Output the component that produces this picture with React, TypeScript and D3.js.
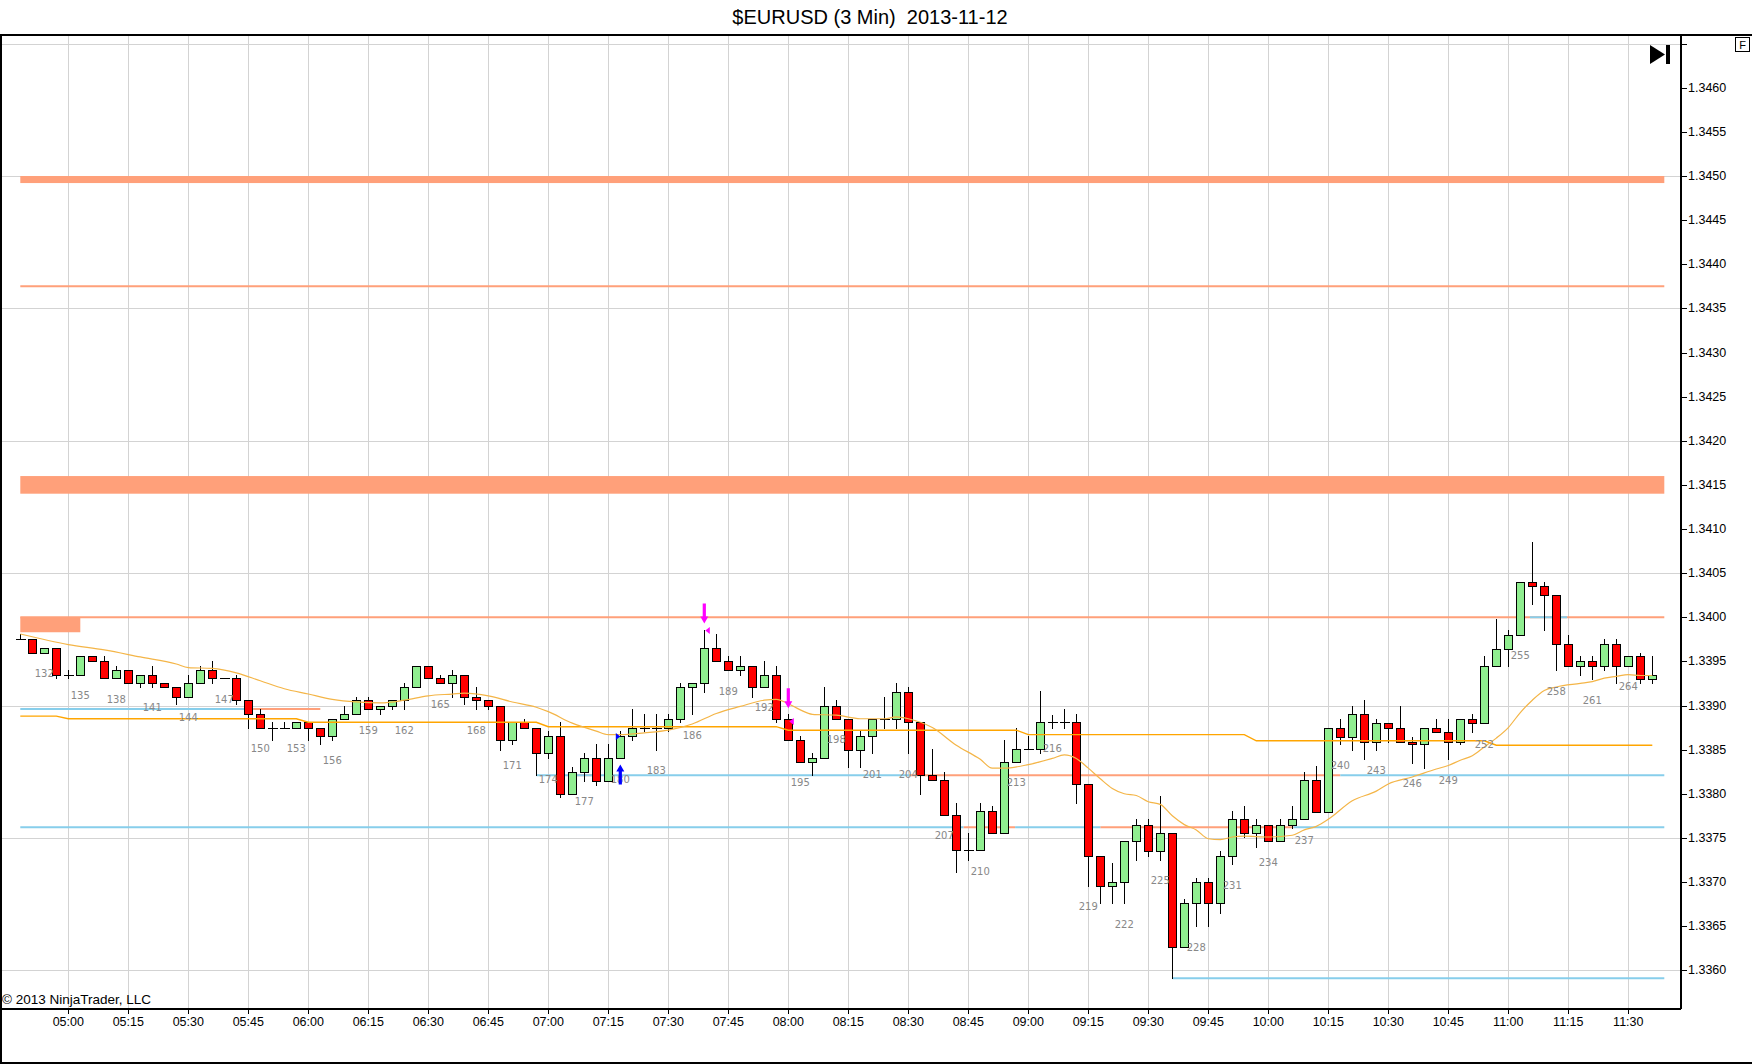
import React from "react";
import * as d3 from "d3";

// ---------- DATA ----------
const FIRST_BAR = 130;

const openP = [
  1.33975, 1.33975, 1.3396, 1.33965, 1.33935, 1.33935, 1.33956, 1.3395, 1.33931, 1.3394,
  1.33925, 1.33935, 1.33925, 1.33921, 1.3391, 1.33925, 1.3394, 1.33931, 1.33931, 1.33906,
  1.3389, 1.33875, 1.33875, 1.33875, 1.33881, 1.33875, 1.33865, 1.33885, 1.3389, 1.33906,
  1.33896, 1.339, 1.33906, 1.33921, 1.33945, 1.33931, 1.33925, 1.33935, 1.3391, 1.33906,
  1.339, 1.33861, 1.33881, 1.33875, 1.33846, 1.33865, 1.338, 1.33825, 1.3384, 1.33815,
  1.3384, 1.33865, 1.33875, 1.33875, 1.33875, 1.33885, 1.33921, 1.33925, 1.33965, 1.3395,
  1.3394, 1.33945, 1.33921, 1.33935, 1.33885, 1.33861, 1.33836, 1.3384, 1.339, 1.33885,
  1.3385, 1.33865, 1.33885, 1.33885, 1.33915, 1.33881, 1.33821, 1.33816, 1.33776, 1.33736,
  1.33736, 1.3378, 1.33755, 1.33836, 1.33851, 1.33851, 1.33881, 1.33881, 1.33881, 1.33811,
  1.3373, 1.33696, 1.337, 1.33746, 1.33765, 1.33735, 1.33755, 1.33626, 1.33676, 1.337,
  1.33676, 1.3373, 1.33771, 1.33755, 1.33765, 1.33746, 1.33765, 1.33771, 1.33816, 1.33779,
  1.33875, 1.33864, 1.3389, 1.33859, 1.3388, 1.33875, 1.33859, 1.33856, 1.33875, 1.3387,
  1.33859, 1.33885, 1.3388, 1.33945, 1.33964, 1.3398, 1.3404, 1.34035, 1.34025, 1.3397,
  1.33945, 1.3395, 1.33945, 1.3397, 1.33945, 1.33956, 1.3393,
];
const highP = [
  1.33981, 1.33975, 1.33965, 1.33965, 1.3394, 1.33956, 1.33956, 1.33956, 1.33945, 1.3394,
  1.33935, 1.33945, 1.33925, 1.33921, 1.33935, 1.33945, 1.3395, 1.33931, 1.33935, 1.33906,
  1.33896, 1.33881, 1.33881, 1.33881, 1.33881, 1.33875, 1.33885, 1.339, 1.3391, 1.3391,
  1.339, 1.33906, 1.33925, 1.33945, 1.33945, 1.33935, 1.3394, 1.33935, 1.33921, 1.33906,
  1.339, 1.33881, 1.33885, 1.33875, 1.33871, 1.33881, 1.3383, 1.33846, 1.33856, 1.33856,
  1.33871, 1.33896, 1.3389, 1.3389, 1.3389, 1.33925, 1.33925, 1.33986, 1.33981, 1.33956,
  1.33956, 1.33945, 1.3395, 1.33945, 1.3389, 1.33865, 1.33846, 1.33921, 1.33906, 1.33885,
  1.33871, 1.33885, 1.3391, 1.33925, 1.33921, 1.33881, 1.33851, 1.33825, 1.3379, 1.33755,
  1.3379, 1.33786, 1.33861, 1.33875, 1.33866, 1.33916, 1.33889, 1.33896, 1.3389, 1.33811,
  1.3373, 1.33721, 1.33746, 1.33771, 1.33771, 1.33797, 1.33755, 1.33681, 1.33705, 1.33705,
  1.33735, 1.3378, 1.33786, 1.33771, 1.33765, 1.33771, 1.33786, 1.33825, 1.33831, 1.33875,
  1.33885, 1.339, 1.33906, 1.33885, 1.3388, 1.339, 1.33864, 1.33875, 1.33885, 1.33885,
  1.33885, 1.3389, 1.33956, 1.33998, 1.33985, 1.3404, 1.34085, 1.3404, 1.34025, 1.3398,
  1.33956, 1.33956, 1.33975, 1.33975, 1.33956, 1.3396, 1.33956,
];
const lowP = [
  1.33975, 1.3396, 1.3396, 1.33931, 1.33931, 1.33935, 1.3395, 1.33931, 1.33931, 1.33925,
  1.33921, 1.33921, 1.33921, 1.33902, 1.3391, 1.33925, 1.33925, 1.33931, 1.33902, 1.33875,
  1.33875, 1.33861, 1.33875, 1.33875, 1.33861, 1.33856, 1.33861, 1.33885, 1.3389, 1.33896,
  1.3389, 1.33896, 1.33896, 1.33921, 1.33931, 1.33925, 1.3391, 1.33902, 1.33896, 1.33896,
  1.3385, 1.33856, 1.33875, 1.33821, 1.3384, 1.33796, 1.338, 1.33815, 1.3381, 1.33815,
  1.3384, 1.33861, 1.33871, 1.3385, 1.33871, 1.33881, 1.3389, 1.33915, 1.3395, 1.3394,
  1.33935, 1.3391, 1.33921, 1.33881, 1.33861, 1.33836, 1.33821, 1.3384, 1.33885, 1.3383,
  1.3383, 1.33846, 1.33874, 1.33874, 1.33846, 1.338, 1.33816, 1.33776, 1.33711, 1.33725,
  1.33736, 1.33755, 1.33755, 1.33836, 1.33851, 1.33846, 1.33875, 1.33875, 1.3379, 1.33696,
  1.33676, 1.33676, 1.33676, 1.33725, 1.3373, 1.33725, 1.33591, 1.33626, 1.3365, 1.3365,
  1.33665, 1.3372, 1.33751, 1.3374, 1.33746, 1.33746, 1.33761, 1.33771, 1.33779, 1.33779,
  1.33856, 1.3385, 1.33839, 1.3385, 1.33859, 1.33859, 1.33835, 1.33829, 1.3387, 1.33839,
  1.33856, 1.3387, 1.3388, 1.33945, 1.33945, 1.3398, 1.34015, 1.33985, 1.3394, 1.33945,
  1.33935, 1.3393, 1.3394, 1.33925, 1.33945, 1.33925, 1.33925,
];
const closeP = [
  1.33975, 1.3396, 1.33965, 1.33935, 1.33935, 1.33956, 1.3395, 1.33931, 1.3394, 1.33925,
  1.33935, 1.33925, 1.33921, 1.3391, 1.33925, 1.3394, 1.33931, 1.33931, 1.33906, 1.3389,
  1.33875, 1.33875, 1.33875, 1.33881, 1.33875, 1.33865, 1.33885, 1.3389, 1.33906, 1.33896,
  1.339, 1.33906, 1.33921, 1.33945, 1.33931, 1.33925, 1.33935, 1.3391, 1.33906, 1.339,
  1.33861, 1.33881, 1.33875, 1.33846, 1.33865, 1.338, 1.33825, 1.3384, 1.33815, 1.3384,
  1.33865, 1.33875, 1.33875, 1.33875, 1.33885, 1.33921, 1.33925, 1.33965, 1.3395, 1.3394,
  1.33945, 1.33921, 1.33935, 1.33885, 1.33861, 1.33836, 1.3384, 1.339, 1.33885, 1.3385,
  1.33865, 1.33885, 1.33885, 1.33915, 1.33881, 1.33821, 1.33816, 1.33776, 1.33736, 1.33736,
  1.3378, 1.33755, 1.33836, 1.33851, 1.33851, 1.33881, 1.33881, 1.33881, 1.33811, 1.3373,
  1.33696, 1.337, 1.33746, 1.33765, 1.33735, 1.33755, 1.33626, 1.33676, 1.337, 1.33676,
  1.3373, 1.33771, 1.33755, 1.33765, 1.33746, 1.33765, 1.33771, 1.33816, 1.33779, 1.33875,
  1.33864, 1.3389, 1.33859, 1.3388, 1.33875, 1.33859, 1.33856, 1.33875, 1.3387, 1.33859,
  1.33885, 1.3388, 1.33945, 1.33964, 1.3398, 1.3404, 1.34035, 1.34025, 1.3397, 1.33945,
  1.3395, 1.33945, 1.3397, 1.33945, 1.33956, 1.3393, 1.33935,
];

// stepped (hourly) level indicator: value starting at bar
const stepFrom = [130, 134, 154, 174, 194, 214, 233, 253];
const stepValue = [1.33888, 1.33885, 1.33881, 1.33876, 1.33872, 1.33867, 1.3386, 1.33855];

// moving average: [bar, value]
const maPoints: [number, number][] = [
  [130, 1.33981], [134, 1.33969], [137, 1.33963], [140, 1.33955], [143, 1.33947], [144, 1.33943],
  [146, 1.33942], [148, 1.33937], [150, 1.33928], [152, 1.33919], [154, 1.33913], [156, 1.33907],
  [158, 1.33904], [160, 1.33903], [162, 1.33906], [164, 1.33911], [166, 1.33913], [167, 1.33914],
  [169, 1.33911], [171, 1.33904], [173, 1.33898], [174, 1.33893], [176, 1.3388], [178, 1.33871],
  [179, 1.33867], [180, 1.33867], [182, 1.33869], [184, 1.33872], [186, 1.33879], [188, 1.33891],
  [190, 1.33899], [192, 1.33906], [193, 1.33907], [194, 1.33902], [195, 1.33895], [196, 1.3389],
  [198, 1.33889], [200, 1.33885], [202, 1.33885], [203, 1.33887], [204, 1.33885], [206, 1.33875],
  [208, 1.33855], [210, 1.33839], [211, 1.33829], [212, 1.33829], [214, 1.33833], [216, 1.3384],
  [217, 1.33844], [218, 1.3384], [219, 1.33829], [220, 1.33817], [221, 1.33806], [222, 1.338],
  [223, 1.33798], [224, 1.33791], [225, 1.33788], [226, 1.33775], [227, 1.33765], [228, 1.33759],
  [229, 1.33749], [230, 1.33748], [231, 1.33751], [232, 1.33752], [234, 1.33751], [236, 1.33753],
  [237, 1.33759], [238, 1.33763], [239, 1.33771], [241, 1.33792], [243, 1.33803], [244, 1.33811],
  [246, 1.33819], [248, 1.33828], [249, 1.33832], [250, 1.33838], [251, 1.33843], [252, 1.33853],
  [253, 1.33863], [254, 1.33875], [255, 1.33892], [256, 1.33906], [257, 1.33917], [258, 1.33921],
  [260, 1.33925], [261, 1.33927], [262, 1.33931], [263, 1.33933], [264, 1.33935], [265, 1.33934],
  [266, 1.33934],
];

// drawn zones (price top/bottom, bar span)
const zoneTop = [1.345, 1.3416, 1.34];
const zoneBottom = [1.34492, 1.3414, 1.33983];
const zoneFrom = [130, 130, 130];
const zoneTo = [267, 267, 135];

// thin drawn lines
const salmonLinePrice = [1.34375, 1.34, 1.33896, 1.33821, 1.33821, 1.33762, 1.33762];
const salmonLineFrom = [130, 130, 149.4, 176.4, 204.1, 208.6, 220];
const salmonLineTo = [267, 267, 155, 177.7, 240, 212.9, 236.1];
const blueLinePrice = [1.33896, 1.33821, 1.33821, 1.33762, 1.33762, 1.33762, 1.33591, 1.34];
const blueLineFrom = [130, 173, 240, 130, 212.9, 236.1, 226, 255.8];
const blueLineTo = [149.4, 204.1, 267, 208.6, 220, 267, 267, 258.9];

// signals
const signalBar = [187, 194, 180];
const signalDir = ["down", "down", "up"];
const execBar = [187, 194, 180];
const execPrice = [1.33985, 1.33882, 1.33865];
const execSide = ["sell", "sell", "buy"];

const timeLabels = [
  "05:00", "05:15", "05:30", "05:45", "06:00", "06:15", "06:30", "06:45", "07:00",
  "07:15", "07:30", "07:45", "08:00", "08:15", "08:30", "08:45", "09:00", "09:15",
  "09:30", "09:45", "10:00", "10:15", "10:30", "10:45", "11:00", "11:15", "11:30",
];
const firstTimeBar = 134;
const barsPerTimeLabel = 5;

const priceLabels = [
  "1.3360", "1.3365", "1.3370", "1.3375", "1.3380", "1.3385", "1.3390", "1.3395", "1.3400",
  "1.3405", "1.3410", "1.3415", "1.3420", "1.3425", "1.3430", "1.3435", "1.3440", "1.3445",
  "1.3450", "1.3455", "1.3460",
];
const topTick = 1.3465;
const gridPrices = [1.336, 1.3375, 1.339, 1.3405, 1.342, 1.3435, 1.345, 1.3465];

const barLabelFirst = 132;
const barLabelLast = 264;
const barLabelStep = 3;

const TITLE = "$EURUSD (3 Min)  2013-11-12";
const COPYRIGHT = "© 2013 NinjaTrader, LLC";

// ---------- COMPONENT ----------
export default function App() {
  const W = 1752, H = 1064;
  const plotTop = 34, plotBottom = 1008, axisX = 1680;

  const x = d3.scaleLinear().domain([130, 267]).range([20.3, 1664.3]);
  const y = d3.scaleLinear().domain([1.339, 1.34]).range([705.5, 617.25]);
  const px = (b: number) => Math.round(x(b)) + 0.5;
  const py = (p: number) => Math.round(y(p)) + 0.5;

  const bars = openP.map((o, i) => ({
    bar: FIRST_BAR + i, o, h: highP[i], l: lowP[i], c: closeP[i],
  }));
  const byBar = new Map(bars.map((b) => [b.bar, b]));

  const lastBar = FIRST_BAR + openP.length - 1;
  const stepPts: [number, number][] = [];
  stepFrom.forEach((f, i) => {
    const end = i < stepFrom.length - 1 ? stepFrom[i + 1] - 1 : lastBar;
    stepPts.push([f, stepValue[i]], [end, stepValue[i]]);
  });
  const lineGen = d3.line<[number, number]>().x((d) => x(d[0])).y((d) => y(d[1]));
  const maGen = d3
    .line<[number, number]>()
    .x((d) => x(d[0]))
    .y((d) => y(d[1]))
    .curve(d3.curveMonotoneX);

  const salmon = "#FFA07A";
  const blue = "#87CEEB";
  const green = "#90EE90";
  const red = "#FF0000";
  const magenta = "#FF00FF";

  const priceTickVals = priceLabels.map((s) => +s);
  const labelBars = d3.range(barLabelFirst, barLabelLast + 1, barLabelStep);

  const font = "'Liberation Sans', Arial, sans-serif";

  return (
    <svg
      width={W}
      height={H}
      viewBox={`0 0 ${W} ${H}`}
      style={{ position: "absolute", left: 0, top: 0, background: "#fff" }}
    >
      <rect x={0} y={0} width={W} height={H} fill="#fff" />
      {/* title */}
      <text
        x={870}
        y={24}
        textAnchor="middle"
        fontFamily={font}
        fontSize={20}
        fill="#000"
        style={{ whiteSpace: "pre" }}
        xmlSpace="preserve"
      >
        {TITLE}
      </text>

      {/* grid */}
      <g stroke="#D3D3D3" strokeWidth={1} shapeRendering="crispEdges">
        {gridPrices.map((p) => (
          <line key={"gh" + p} x1={0} x2={axisX} y1={py(p)} y2={py(p)} />
        ))}
        {timeLabels.map((t, i) => {
          const xx = px(firstTimeBar + i * barsPerTimeLabel);
          return <line key={"gv" + t} x1={xx} x2={xx} y1={plotTop} y2={plotBottom} />;
        })}
      </g>

      {/* zones */}
      {zoneTop.map((t, i) => (
        <rect
          key={"z" + i}
          x={x(zoneFrom[i])}
          width={x(zoneTo[i]) - x(zoneFrom[i])}
          y={y(t)}
          height={y(zoneBottom[i]) - y(t)}
          fill={salmon}
        />
      ))}
      {/* thin lines */}
      {salmonLinePrice.map((p, i) => (
        <line
          key={"sl" + i}
          x1={x(salmonLineFrom[i])}
          x2={x(salmonLineTo[i])}
          y1={y(p)}
          y2={y(p)}
          stroke={salmon}
          strokeWidth={2}
        />
      ))}
      {blueLinePrice.map((p, i) => (
        <line
          key={"bl" + i}
          x1={x(blueLineFrom[i])}
          x2={x(blueLineTo[i])}
          y1={y(p)}
          y2={y(p)}
          stroke={blue}
          strokeWidth={2}
        />
      ))}

      {/* candles */}
      <g shapeRendering="crispEdges">
        {bars.map((d) => {
          const cx = px(d.bar);
          const doji = Math.abs(d.o - d.c) < 0.00002;
          const top = Math.round(y(Math.max(d.o, d.c)));
          const bot = Math.round(y(Math.min(d.o, d.c)));
          return (
            <g key={d.bar}>
              <line x1={cx} x2={cx} y1={Math.round(y(d.h))} y2={Math.round(y(d.l)) + 1} stroke="#000" />
              {doji ? (
                <line x1={cx - 5} x2={cx + 5} y1={top + 0.5} y2={top + 0.5} stroke="#000" />
              ) : (
                <rect
                  x={cx - 4}
                  y={top + 0.5}
                  width={8}
                  height={Math.max(1, bot - top)}
                  fill={d.c > d.o ? green : red}
                  stroke="#000"
                />
              )}
            </g>
          );
        })}
      </g>

      {/* indicators */}
      <path d={lineGen(stepPts) || ""} fill="none" stroke="#FFA500" strokeWidth={1.4} />
      <path d={maGen(maPoints) || ""} fill="none" stroke="#F4B547" strokeWidth={1.2} />

      {/* bar number labels */}
      {labelBars.map((b) => {
        const d = byBar.get(b);
        if (!d) return null;
        return (
          <text
            key={"lb" + b}
            x={x(b)}
            y={y(d.l) + 21}
            textAnchor="middle"
            dominantBaseline="central"
            fontFamily="'DejaVu Sans', Verdana, sans-serif"
            fontSize={10}
            fill="#888"
          >
            {b}
          </text>
        );
      })}

      {/* signal arrows */}
      {signalBar.map((b, i) => {
        const d = byBar.get(b)!;
        const cx = x(b);
        if (signalDir[i] === "down") {
          const tip = y(d.h) - 6;
          return (
            <path
              key={"sg" + i}
              d={`M${cx - 1.6},${tip - 20} H${cx + 1.6} V${tip - 7} H${cx + 4} L${cx},${tip} L${cx - 4},${tip - 7} H${cx - 1.6} Z`}
              fill={magenta}
            />
          );
        }
        const tip = y(d.l) + 6;
        return (
          <path
            key={"sg" + i}
            d={`M${cx - 1.6},${tip + 20} H${cx + 1.6} V${tip + 7} H${cx + 4} L${cx},${tip} L${cx - 4},${tip + 7} H${cx - 1.6} Z`}
            fill="#0000FF"
          />
        );
      })}
      {execBar.map((b, i) => {
        const cx = x(b);
        const yy = y(execPrice[i]);
        if (execSide[i] === "sell") {
          return (
            <path
              key={"ex" + i}
              d={`M${cx + 1},${yy} L${cx + 5.5},${yy - 3.5} L${cx + 5.5},${yy + 3.5} Z`}
              fill={magenta}
            />
          );
        }
        return (
          <path
            key={"ex" + i}
            d={`M${cx},${yy} L${cx - 4.5},${yy - 3.5} L${cx - 4.5},${yy + 3.5} Z`}
            fill="#0000FF"
          />
        );
      })}

      {/* axes ticks */}
      <g shapeRendering="crispEdges" stroke="#000">
        {[...priceTickVals, topTick].map((p) => (
          <line key={"pt" + p} x1={axisX} x2={axisX + 7} y1={py(p)} y2={py(p)} />
        ))}
        {timeLabels.map((t, i) => {
          const xx = px(firstTimeBar + i * barsPerTimeLabel);
          return <line key={"tt" + t} x1={xx} x2={xx} y1={plotBottom} y2={plotBottom + 6} />;
        })}
      </g>
      {priceLabels.map((s) => (
        <text
          key={"pl" + s}
          x={axisX + 8}
          y={y(+s)}
          dominantBaseline="central"
          fontFamily={font}
          fontSize={12.5}
          fill="#000"
        >
          {s}
        </text>
      ))}
      {timeLabels.map((t, i) => (
        <text
          key={"tl" + t}
          x={x(firstTimeBar + i * barsPerTimeLabel)}
          y={1022}
          textAnchor="middle"
          dominantBaseline="central"
          fontFamily={font}
          fontSize={12.5}
          fill="#000"
        >
          {t}
        </text>
      ))}

      <text x={2} y={1004} fontFamily={font} fontSize={13.5} fill="#000">
        {COPYRIGHT}
      </text>

      {/* frame */}
      <g shapeRendering="crispEdges" stroke="#000" fill="none">
        <line x1={0} x2={W} y1={plotTop + 0.5} y2={plotTop + 0.5} strokeWidth={2} />
        <line x1={0} x2={axisX + 1} y1={plotBottom + 0.5} y2={plotBottom + 0.5} strokeWidth={2} />
        <line x1={0.5} x2={0.5} y1={plotTop} y2={H} strokeWidth={2} />
        <line x1={0} x2={W} y1={H - 1.5} y2={H - 1.5} strokeWidth={2} />
        <line x1={axisX + 0.5} x2={axisX + 0.5} y1={plotTop} y2={plotBottom + 1} strokeWidth={2} />
        <rect x={1735.5} y={37.5} width={14} height={14} strokeWidth={1} />
      </g>
      <text x={1742.5} y={45} textAnchor="middle" dominantBaseline="central" fontFamily={font} fontSize={11} fill="#000">
        F
      </text>
      {/* scroll-to-end icon */}
      <path d="M1650,45 L1650,64 L1665,54.5 Z" fill="#000" />
      <rect x={1666} y={45} width={4} height={19} fill="#000" />
    </svg>
  );
}
